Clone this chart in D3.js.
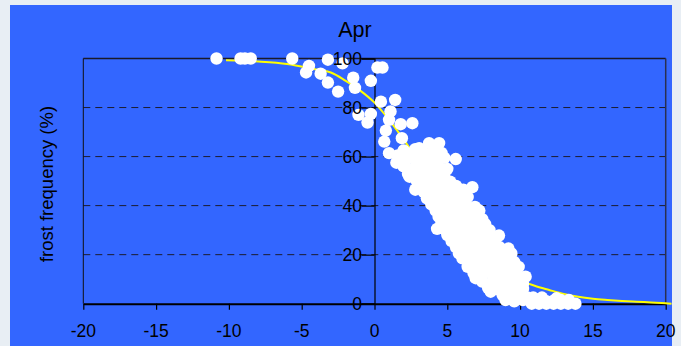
<!DOCTYPE html>
<html>
<head>
<meta charset="utf-8">
<script src="https://cdn.jsdelivr.net/npm/d3@7"></script>
<style>
  html, body { margin: 0; padding: 0; background: #e8eef4; }
  svg { display: block; }
  text { font-family: "Liberation Sans", Arial, sans-serif; fill: #000; }
</style>
</head>
<body>
<svg id="chart" width="681" height="346"></svg>
<script>
// Chart title and axis labels
const title = "Apr";
const yLabel = "frost frequency (%)";
const xTicks = [-20, -15, -10, -5, 0, 5, 10, 15, 20];
const yTicks = [0, 20, 40, 60, 80, 100];

// Observed stations: [minimum temperature offset, frost frequency %]
const observations = [
  [-10.85,100],[-9.2,100],[-8.9,100],[-8.5,100],[-5.65,100],[-3.2,99.5],
  [-4.5,97],[-4.7,94.3],[-3.7,93.8],[-3.2,90.2],[-2.5,86.5],[-2.2,98],
  [-1.46,92.2],[-1.34,88],[-0.25,90.9],[0.2,96.3],[0.55,96.3],[0.44,82.4],[1.42,83.1],
  [-1.1,77],[-0.48,73.9],[-0.25,77.4],[1.1,78.4],[1.0,75],[1.8,73.2],[2.6,73.6],
  [0.78,70.6],[0.67,66.1],[1.88,67.5],[1.0,61.4],[3.75,65.5],[4.44,65.5],[3.07,63.4],[5.58,59],
  [1.6,60.5],[2.0,62.5],[2.4,61],[2.8,63],[3.3,62],[3.8,61],[4.2,62.8],[4.6,61.5],
  [2.2,59],[2.9,58.5],[3.5,59],[4.1,58.5],[4.8,59.5],[1.5,57.5],
  [2.0,56],[2.6,55],[3.2,56],[3.8,55.5],[4.4,56],[5.0,55],[2.3,53],[3.0,52.5],[3.6,53.5],[4.2,52.8],[4.8,53],
  [2.4,51.8],[2.9,50],[3.5,50.5],[4.0,49.5],[4.6,50.2],[5.2,49.8],[3.2,48],[3.8,47.5],[4.4,47],[5.0,47.5],[5.6,48],[6.72,47.5],
  [2.8,46.5],[3.4,45.5],[4.0,45],[4.6,44.5],[5.2,45.5],[5.8,45],[6.1,46.5],[3.6,43],[4.2,42.5],[4.8,42],[5.4,43],[6.0,42.5],[6.4,43.5],
  [3.9,40.5],[4.5,40],[5.1,39.5],[5.7,40.5],[6.3,40],[6.9,39.5],[4.2,38],[4.8,37.5],[5.4,37],[6.0,38],[6.6,37.5],[7.2,38],
  [4.4,35.5],[5.0,35],[5.6,34.5],[6.2,35.5],[6.8,35],[7.4,34.5],[4.6,33],[5.2,32.5],[5.8,33],[6.4,32],[7.0,33],[7.6,32.5],
  [4.3,30.5],[4.9,30],[5.5,29.5],[6.1,30.5],[6.7,30],[7.3,29.5],[7.9,30],[5.0,28],[5.6,27.5],[6.2,28],[6.8,27],[7.4,28],[8.0,27.5],[8.55,27.8],
  [5.3,25.5],[5.9,25],[6.5,25.5],[7.1,24.5],[7.7,25],[8.3,24.5],[5.6,23],[6.2,22.5],[6.8,23],[7.4,22],[8.0,22.5],[8.6,23],[9.2,22.5],
  [5.8,20.5],[6.4,20],[7.0,20.5],[7.6,19.5],[8.2,20],[8.8,19.5],[9.4,20.5],[6.04,18.5],[6.6,17.5],[7.2,18],[7.8,17],[8.4,17.5],[9.0,18],[9.6,17],
  [6.4,15],[7.0,14.5],[7.6,15.5],[8.2,14.5],[8.8,15],[9.4,14],[9.9,15],[6.8,12.5],[7.4,12],[8.0,12.5],[8.6,11.5],[9.2,12],[9.8,11.5],[10.38,11],[6.95,10.4],
  [7.4,9],[8.0,8.5],[8.6,9.5],[9.2,8.5],[9.8,9],[10.2,8],[7.8,6.5],[8.4,6],[9.0,6.5],[9.6,5.5],[10.2,6],[7.98,4.9],
  [8.8,3.5],[9.4,3],[10.0,3.5],[10.5,2.5],[9.0,1.5],[9.6,1],[10.2,1.5],[10.8,1],[11.3,1.5],[11.8,1],[12.3,1.2],[12.8,1.5],[13.35,1.5],
  [10.8,0],[11.3,0],[11.8,0],[12.3,0],[12.8,0],[13.3,0],[13.8,0],[10.9,2.5],[11.5,2.5],[12.5,2.2]
];

// Fitted frost-frequency curve
const fitTemp = [-10.2, -8, -6, -4, -3, -2, -1, 0, 1, 2, 3, 4, 5, 6, 7, 8, 9, 10, 11, 12, 13, 14, 15, 16, 17, 18, 19, 20, 20.4];
const fitFreq = [99.3, 98.8, 97.8, 95.5, 94.3, 91, 87, 82, 75, 67, 58, 49, 40, 31, 23, 17, 12.5, 9.5, 7.3, 5.6, 4, 2.8, 2, 1.5, 1.1, 0.8, 0.5, 0.2, 0];

const svg = d3.select("#chart");
const W = 681, H = 346;

// Outer page and blue chart panel
svg.append("rect").attr("width", W).attr("height", H).attr("fill", "#e8eef4");
svg.append("rect").attr("x", 10).attr("y", 5).attr("width", 662).attr("height", H - 5).attr("fill", "#3366ff");

const x = d3.scaleLinear().domain([-20, 20]).range([83.3, 665.7]);
const y = d3.scaleLinear().domain([0, 100]).range([303.7, 58.5]);

// Dashed horizontal gridlines
svg.append("g").selectAll("line")
  .data(yTicks.filter(v => v > 0 && v < 100))
  .join("line")
  .attr("x1", x(-20)).attr("x2", x(20))
  .attr("y1", d => y(d)).attr("y2", d => y(d))
  .attr("stroke", "#1c1c30").attr("stroke-width", 1)
  .attr("stroke-dasharray", "7,5");

// Plot frame: top, left, right
svg.append("line").attr("x1", x(-20)).attr("x2", x(20)).attr("y1", y(100)).attr("y2", y(100))
  .attr("stroke", "#1a1a2a").attr("stroke-width", 1.5);
svg.append("line").attr("x1", x(-20)).attr("x2", x(-20)).attr("y1", y(100)).attr("y2", y(0))
  .attr("stroke", "#111").attr("stroke-width", 1);
svg.append("line").attr("x1", x(20)).attr("x2", x(20)).attr("y1", y(100)).attr("y2", y(0))
  .attr("stroke", "#2a2f50").attr("stroke-width", 1.5);

// Vertical axis crossing at 0
const yAxis = svg.append("g")
  .attr("transform", `translate(${x(0)},0)`)
  .call(d3.axisLeft(y).tickValues(yTicks).tickSize(13).tickFormat(d3.format("d")));
yAxis.select(".domain").attr("stroke", "#000").attr("stroke-width", 1.2);
yAxis.selectAll(".tick line").attr("stroke", "#000").attr("stroke-width", 1.2);
yAxis.selectAll(".tick text").remove();

// Horizontal axis at the bottom
const xAxis = svg.append("g")
  .attr("transform", `translate(0,${y(0)})`)
  .call(d3.axisBottom(x).tickValues(xTicks).tickSize(6).tickSizeOuter(0));
xAxis.select(".domain").attr("stroke", "#000").attr("stroke-width", 2);
xAxis.selectAll(".tick line").attr("stroke", "#000").attr("stroke-width", 1.2);
xAxis.selectAll(".tick text").remove();

// Fitted curve (beneath the observations)
const fit = fitTemp.map((t, i) => [t, fitFreq[i]]);
svg.append("path")
  .datum(fit)
  .attr("fill", "none")
  .attr("stroke", "#ffff00")
  .attr("stroke-width", 2)
  .attr("d", d3.line().x(d => x(d[0])).y(d => y(d[1])).curve(d3.curveMonotoneX));

// Observations
svg.append("g").selectAll("circle")
  .data(observations)
  .join("circle")
  .attr("cx", d => x(d[0]))
  .attr("cy", d => y(d[1]))
  .attr("r", 6.2)
  .attr("fill", "#ffffff");

// Tick labels drawn above the markers
svg.append("g").selectAll("text")
  .data(yTicks)
  .join("text")
  .attr("x", 362)
  .attr("y", d => y(d) + 6)
  .attr("text-anchor", "end")
  .attr("font-size", 17.5)
  .text(d => d);

svg.append("g").selectAll("text")
  .data(xTicks)
  .join("text")
  .attr("x", d => x(d))
  .attr("y", 336.5)
  .attr("text-anchor", "middle")
  .attr("font-size", 17.5)
  .text(d => d);

// Title
svg.append("text")
  .attr("x", 355).attr("y", 36.5)
  .attr("text-anchor", "middle")
  .attr("font-size", 21.5)
  .text(title);

// Y axis title
svg.append("text")
  .attr("transform", "translate(52.5,184) rotate(-90)")
  .attr("text-anchor", "middle")
  .attr("font-size", 18.5)
  .text(yLabel);
</script>
</body>
</html>
